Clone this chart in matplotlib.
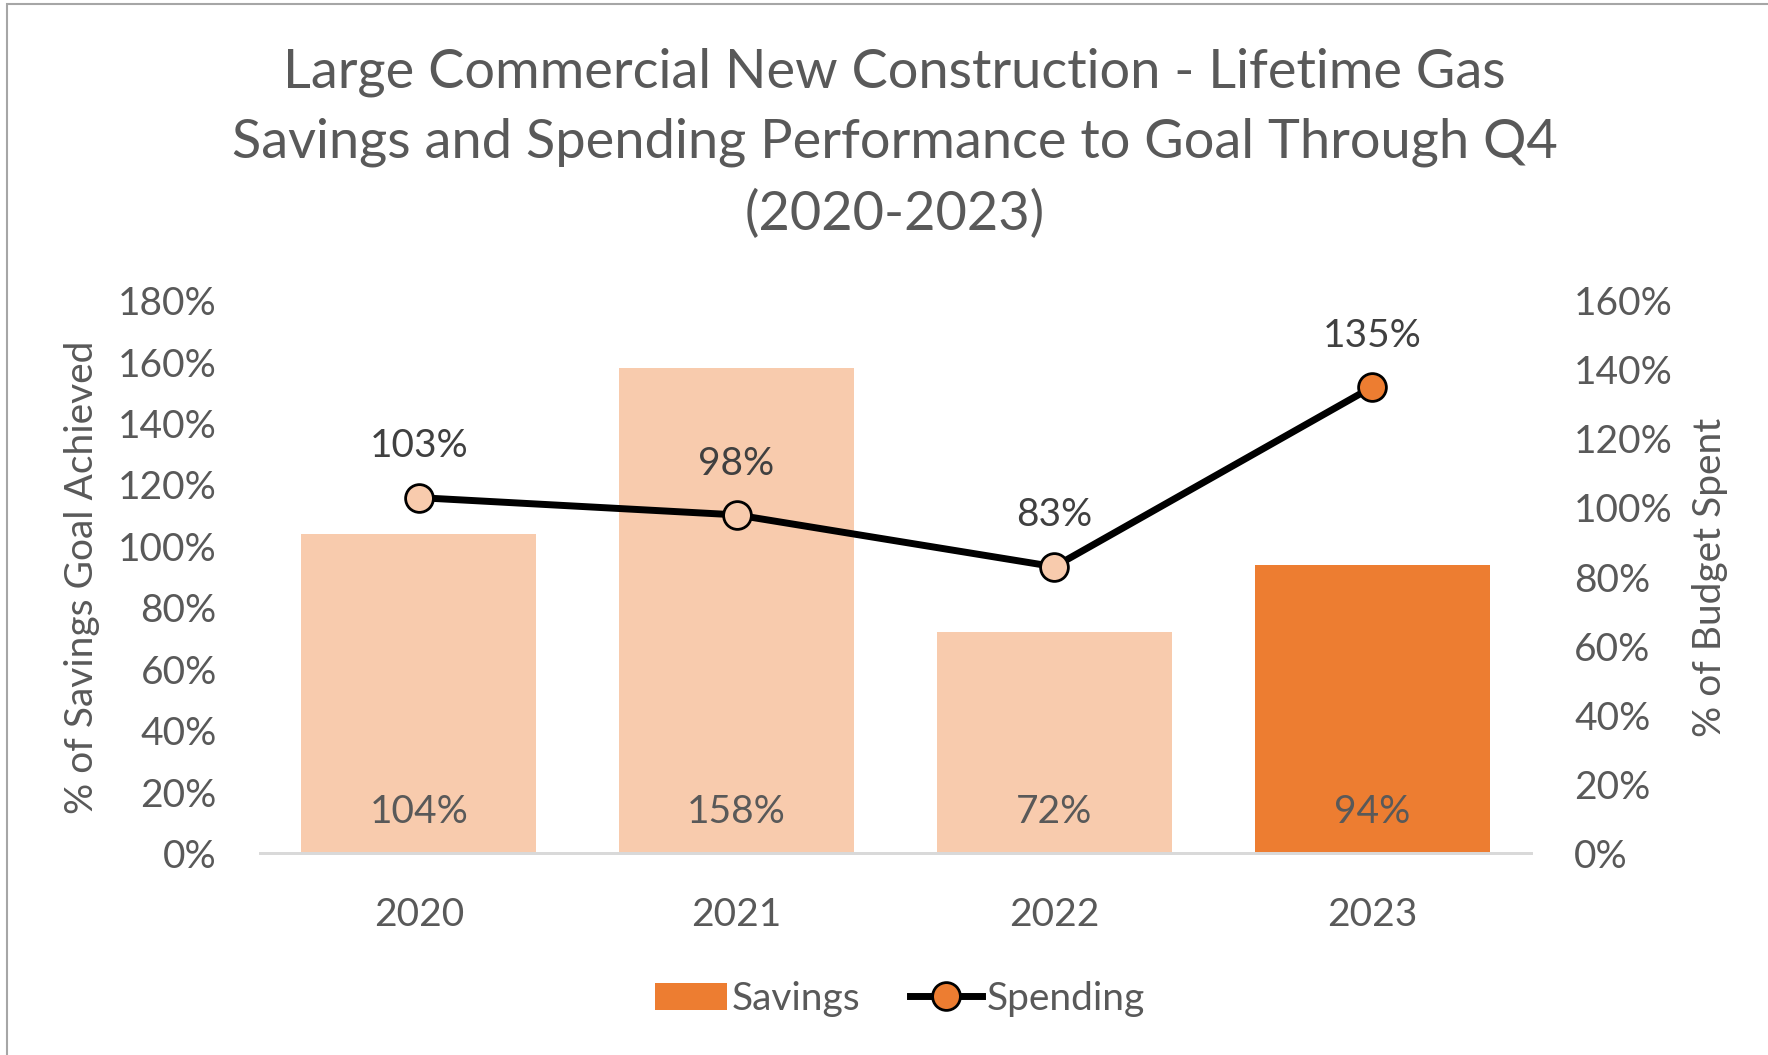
"""Lifetime gas savings and spending vs goal, bar + line on twin axes."""

import matplotlib

matplotlib.use("Agg")
import matplotlib.pyplot as plt  # noqa: E402
from matplotlib.lines import Line2D  # noqa: E402
from matplotlib.patches import Patch, Rectangle  # noqa: E402
from matplotlib.ticker import FuncFormatter, MultipleLocator  # noqa: E402

years = ["2020", "2021", "2022", "2023"]
savings = [1.04, 1.58, 0.72, 0.94]
spending = [1.03, 0.98, 0.83, 1.35]
savings_labels = ["104%", "158%", "72%", "94%"]
spending_labels = ["103%", "98%", "83%", "135%"]

LIGHT = "#F8CBAD"
ORANGE = "#ED7D31"
GREY = "#595959"
FS = 28

plt.rcParams["font.family"] = ["Lato", "DejaVu Sans"]

fig = plt.figure(figsize=(17.68, 10.55), dpi=100)
ax = fig.add_axes([0.147, 0.191, 0.719, 0.524])
ax2 = ax.twinx()

xs = range(len(years))
bar_colors = [LIGHT] * (len(years) - 1) + [ORANGE]
ax.bar(xs, savings, width=0.74, color=bar_colors, zorder=2)
ax.set_xlim(-0.5, len(years) - 0.5)
ax.set_ylim(0, 1.8)
ax.yaxis.set_major_locator(MultipleLocator(0.2))
pct = FuncFormatter(lambda v, _: f"{v * 100:.0f}%")
ax.yaxis.set_major_formatter(pct)
ax.set_xticks(list(xs))
ax.set_xticklabels(years)

for x, lab in zip(xs, savings_labels):
    ax.annotate(lab, xy=(x, 0), xytext=(0, 30), textcoords="offset points",
                ha="center", va="center", fontsize=FS, color=GREY)

ax2.plot(xs, spending, color="black", lw=5, zorder=3, solid_capstyle="round")
marker_colors = [LIGHT] * (len(years) - 1) + [ORANGE]
for x, y, c, lab in zip(xs, spending, marker_colors, spending_labels):
    ax2.plot(x, y, marker="o", ms=20, mfc=c, mec="black", mew=2, zorder=4)
    ax2.annotate(lab, xy=(x, y), xytext=(0, 37), textcoords="offset points",
                 ha="center", va="center", fontsize=FS, color="#404040")
ax2.set_ylim(0, 1.6)
ax2.yaxis.set_major_locator(MultipleLocator(0.2))
ax2.yaxis.set_major_formatter(pct)

for a in (ax, ax2):
    for side in ("top", "left", "right"):
        a.spines[side].set_visible(False)
    a.spines["bottom"].set_color("#D9D9D9")
    a.spines["bottom"].set_linewidth(2)
    a.tick_params(length=0, labelsize=FS, labelcolor=GREY)
ax.tick_params(axis="x", pad=31)
ax.tick_params(axis="y", pad=31)
ax2.tick_params(axis="y", pad=31)

ax.set_ylabel("% of Savings Goal Achieved", fontsize=FS, color=GREY)
ax.yaxis.label.set_va("center")
ax.yaxis.set_label_coords(-0.140, 0.5)
ax2.set_ylabel("% of Budget Spent", fontsize=FS, color=GREY)
ax2.yaxis.label.set_va("center")
ax2.yaxis.set_label_coords(1.141, 0.5)

fig.text(0.506, 1 - 143 / 1055,
         "Large Commercial New Construction - Lifetime Gas\n"
         "Savings and Spending Performance to Goal Through Q4\n"
         "(2020-2023)",
         ha="center", va="center", fontsize=39, color=GREY, linespacing=1.52)

handles = [
    Patch(facecolor=ORANGE, edgecolor="none"),
    Line2D([], [], color="black", lw=5, marker="o", ms=20, mfc=ORANGE,
           mec="black", mew=2),
]
fig.legend(handles, ["Savings", "Spending"], loc="center",
           bbox_to_anchor=(0.509, 1 - 999 / 1055), ncol=2, frameon=False,
           fontsize=FS, labelcolor=GREY, handlelength=1.85, handletextpad=0.1,
           columnspacing=1.3)

fig.patches.append(Rectangle((7 / 1768, -0.1), 1.2, 1 - 4 / 1055 + 0.1,
                             transform=fig.transFigure, fill=False,
                             edgecolor="#A6A6A6", lw=1.5))

fig.savefig("out.png", dpi=100)
